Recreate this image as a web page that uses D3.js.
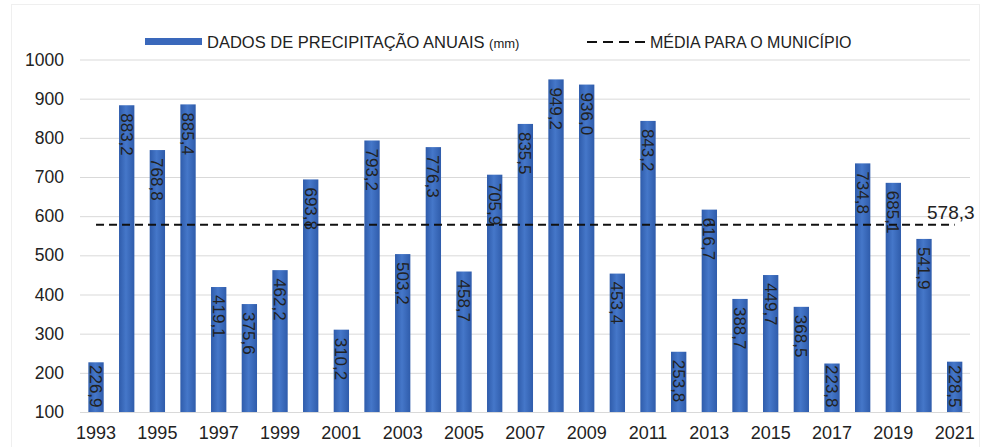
<!DOCTYPE html>
<html>
<head>
<meta charset="utf-8">
<script src="https://cdn.jsdelivr.net/npm/d3@7"></script>
<style>
  body { margin: 0; background: #fff; }
  svg text { font-family: "Liberation Sans", Arial, sans-serif; fill: #222; }
</style>
</head>
<body>
<svg width="984" height="447"></svg>
<script>
// annual rainfall (mm), 1993 - 2021
var years = d3.range(1993, 2022).map(String);
var rain = [226.9, 883.2, 768.8, 885.4, 419.1, 375.6, 462.2, 693.8, 310.2, 793.2,
            503.2, 776.3, 458.7, 705.9, 835.5, 949.2, 936.0, 453.4, 843.2, 253.8,
            616.7, 388.7, 449.7, 368.5, 223.8, 734.8, 685.1, 541.9, 228.5];
var media = 578.3;
var yTicks = [100, 200, 300, 400, 500, 600, 700, 800, 900, 1000];
var legendBars = 'DADOS DE PRECIPITAÇÃO ANUAIS';
var legendMedia = 'MÉDIA PARA O MUNICÍPIO';

var svg = d3.select('svg');
var fmt = function(v){ return v.toFixed(1).replace('.', ','); };

var x = d3.scaleBand().domain(years).range([80.7, 970]).paddingInner(0.5).paddingOuter(0.25);
var y = d3.scaleLinear().domain([100, 1000]).range([412, 59.5]);

// faint chart border
svg.append('rect')
    .attr('x', 11.5).attr('y', 4.5).attr('width', 968).attr('height', 450)
    .attr('fill', 'none').attr('stroke', '#efefef');

var defs = svg.append('defs');
var grad = defs.append('linearGradient').attr('id', 'barGrad').attr('x1', '0%').attr('x2', '100%');
grad.append('stop').attr('offset', '0%').attr('stop-color', '#2f5cab');
grad.append('stop').attr('offset', '45%').attr('stop-color', '#4577c9');
grad.append('stop').attr('offset', '100%').attr('stop-color', '#2f5cab');

// y axis + gridlines
var yAxis = svg.append('g')
    .attr('transform', 'translate(80,0)')
    .call(d3.axisLeft(y).tickValues(yTicks).tickFormat(d3.format('d')).tickSize(-890).tickPadding(16));
yAxis.attr('font-family', null).attr('font-size', null);
yAxis.select('.domain').remove();
yAxis.selectAll('line').attr('stroke', '#d9d9d9');
yAxis.selectAll('text').style('font-size', '17.5px').attr('fill', '#222');

// bars
svg.selectAll('.bar')
    .data(rain)
    .enter()
    .append('rect')
    .attr('class', 'bar')
    .attr('x', function(d, i){ return x(years[i]); })
    .attr('width', x.bandwidth())
    .attr('y', function(d){ return y(d); })
    .attr('height', function(d){ return y(100) - y(d); })
    .attr('fill', 'url(#barGrad)');

// x axis (every other year)
var xAxis = svg.append('g')
    .attr('transform', 'translate(0,412)')
    .call(d3.axisBottom(x).tickValues(years.filter(function(d, i){ return i % 2 == 0; })).tickSize(0).tickPadding(14));
xAxis.attr('font-family', null).attr('font-size', null);
xAxis.select('.domain').remove();
xAxis.selectAll('text').style('font-size', '18px').attr('fill', '#222');

// mean line
svg.append('line')
    .attr('x1', x(years[0]) + x.bandwidth() / 2)
    .attr('x2', x(years[years.length - 1]) + x.bandwidth() / 2)
    .attr('y1', y(media)).attr('y2', y(media))
    .attr('stroke', '#111').attr('stroke-width', 2)
    .attr('stroke-dasharray', '8,5');

svg.append('text')
    .text(fmt(media))
    .attr('x', 927).attr('y', y(media) - 6)
    .style('font-size', '19px');

// value labels, rotated, inside the bar end
svg.selectAll('.val')
    .data(rain)
    .enter()
    .append('text')
    .attr('class', 'val')
    .text(function(d){ return fmt(d); })
    .style('font-size', '17px')
    .attr('dy', '0.36em')
    .attr('transform', function(d, i){
        var cx = x(years[i]) + x.bandwidth() / 2;
        var len = 43;
        var top = y(d) + 8;
        if (top + len > y(100) - 4) top = y(100) - 4 - len;
        return 'translate(' + cx + ',' + top + ')rotate(90)';
    });

// legend
svg.append('rect')
    .attr('x', 145).attr('y', 38).attr('width', 57).attr('height', 7)
    .attr('fill', '#3a68bb');
var lg = svg.append('text').attr('x', 207).attr('y', 48).style('font-size', '16.5px');
lg.append('tspan').text(legendBars + ' ');
lg.append('tspan').text('(mm)').style('font-size', '13px');

svg.append('line')
    .attr('x1', 587).attr('x2', 645).attr('y1', 42).attr('y2', 42)
    .attr('stroke', '#111').attr('stroke-width', 2).attr('stroke-dasharray', '10,6');
svg.append('text').text(legendMedia)
    .attr('x', 650).attr('y', 48).style('font-size', '16px');
</script>
</body>
</html>
